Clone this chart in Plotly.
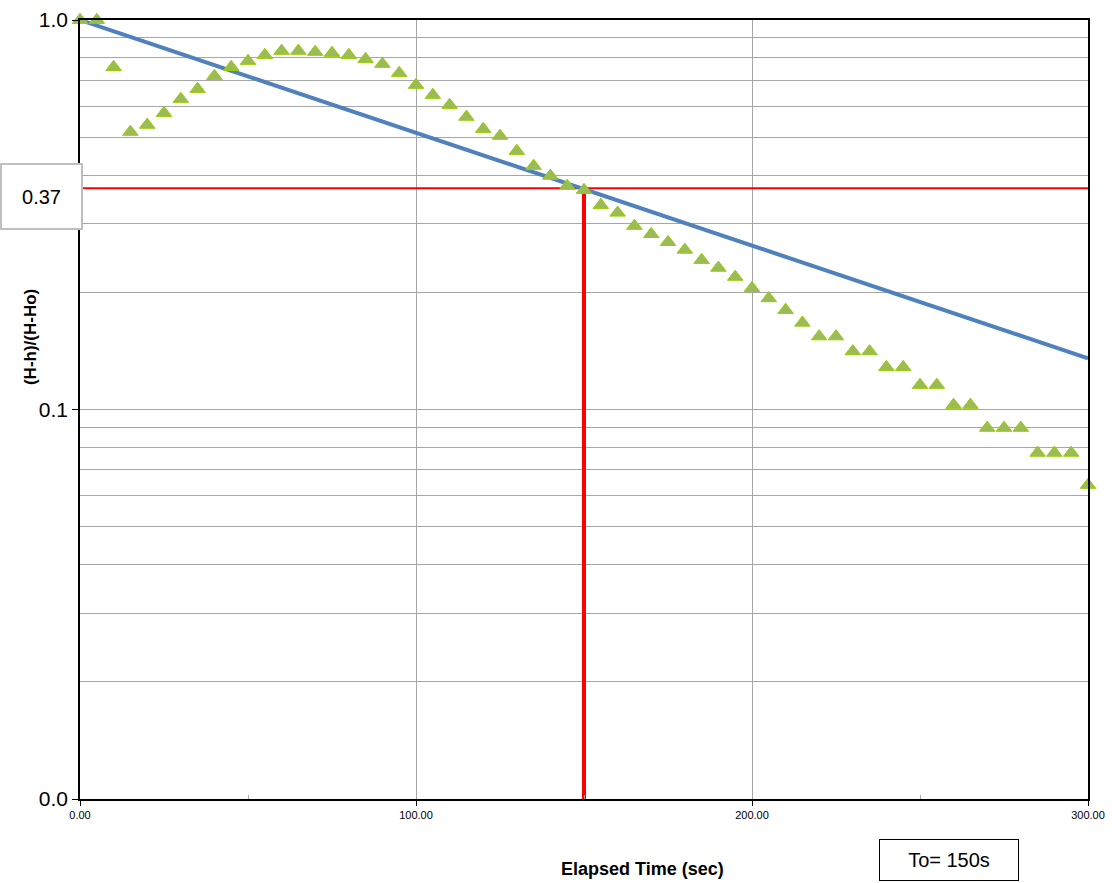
import plotly.graph_objects as go

# Measured data: elapsed time (s) and normalized head ratio
time_s = [0, 5, 10, 15, 20, 25, 30, 35, 40, 45, 50, 55, 60, 65, 70, 75, 80, 85, 90, 95,
          100, 105, 110, 115, 120, 125, 130, 135, 140, 145, 150, 155, 160, 165, 170, 175,
          180, 185, 190, 195, 200, 205, 210, 215, 220, 225, 230, 235, 240, 245, 250, 255,
          260, 265, 270, 275, 280, 285, 290, 295, 300]
head_ratio = [1.0, 1.0, 0.757, 0.516, 0.538, 0.577, 0.627, 0.665, 0.718, 0.757, 0.785, 0.813,
              0.833, 0.833, 0.828, 0.823, 0.813, 0.794, 0.771, 0.731, 0.681, 0.642, 0.605,
              0.564, 0.525, 0.504, 0.461, 0.422, 0.398, 0.375, 0.366, 0.335, 0.320, 0.296,
              0.282, 0.269, 0.257, 0.242, 0.231, 0.219, 0.205, 0.193, 0.180, 0.167, 0.154,
              0.154, 0.141, 0.141, 0.1285, 0.1285, 0.1156, 0.1156, 0.1027, 0.1027, 0.0897,
              0.0897, 0.0897, 0.0774, 0.0774, 0.0774, 0.064]

# Fitted straight line (semi-log)
fit_t = [0, 300]
fit_ratio = [1.0, 0.1353]

# Reference lines: 0.37 level and To
level_x = [0, 300]
level_y = [0.37, 0.37]
to_x = [150, 150]
to_y = [0.01, 0.37]

y_major = [0.01, 0.1, 1.0]
y_major_text = ["0.0", "0.1", "1.0"]
x_ticks = [0, 100, 200, 300]
x_tick_text = ["0.00", "100.00", "200.00", "300.00"]

# gridline positions (1..9 per decade)
y_grid = [m * d for d in (0.01, 0.1) for m in range(1, 10)] + [1.0]

FONT = "Liberation Sans, Arial, sans-serif"

fig = go.Figure()

fig.add_trace(go.Scatter(x=level_x, y=level_y, mode="lines",
                         line=dict(color="#FF0000", width=2), hoverinfo="skip"))
fig.add_trace(go.Scatter(x=fit_t, y=fit_ratio, mode="lines",
                         line=dict(color="#4F81BD", width=4)))
fig.add_trace(go.Scatter(x=to_x, y=to_y, mode="lines",
                         line=dict(color="#FF0000", width=4), hoverinfo="skip"))
fig.add_trace(go.Scatter(x=time_s, y=head_ratio, mode="markers",
                         marker=dict(symbol="triangle-up", size=13.5, color="#9BBB59",
                                     line=dict(color="#99CC00", width=1)),
                         cliponaxis=False))

fig.update_layout(
    width=1112, height=883,
    margin=dict(l=80, r=24, t=20, b=84, autoexpand=False),
    paper_bgcolor="white", plot_bgcolor="white",
    showlegend=False,
    font=dict(family=FONT, color="black"),
    xaxis=dict(range=[0, 300], tickvals=x_ticks, ticktext=x_tick_text, automargin=False,
               tickfont=dict(size=11, family=FONT), showgrid=True, gridcolor="#A6A6A6",
               gridwidth=1, zeroline=False, showline=True, linecolor="black", linewidth=1.5,
               mirror=True, ticks="outside", ticklen=5, tickcolor="black",
               minor=dict(tickvals=[50, 150, 250], ticks="inside", ticklen=4,
                          tickcolor="#A6A6A6", showgrid=False)),
    yaxis=dict(type="log", range=[-2, 0], tickvals=y_major, ticktext=y_major_text,
               automargin=False,
               tickfont=dict(size=21, family=FONT), showgrid=False, zeroline=False,
               showline=True, linecolor="black", linewidth=1.5, mirror=True,
               ticks="outside", ticklen=6, tickcolor="black",
               minor=dict(tickvals=y_grid, showgrid=True, gridcolor="#A6A6A6",
                          gridwidth=1, ticks="")),
)

fig.add_annotation(text="<b>Elapsed Time (sec)</b>", xref="paper", yref="paper",
                   x=0.5585, y=-0.0899, xanchor="center", yanchor="middle",
                   showarrow=False, font=dict(size=18, family=FONT))
fig.add_annotation(text="<b>(H-h)/(H-Ho)</b>", xref="paper", yref="paper",
                   x=-0.0496, y=0.593, xanchor="center", yanchor="middle",
                   textangle=-90, showarrow=False, font=dict(size=17, family=FONT))
fig.add_annotation(text="0.37", xref="paper", yref="paper", x=-0.0382, y=0.7734,
                   xanchor="center", yanchor="middle",
                   showarrow=False, font=dict(size=20, family=FONT),
                   bgcolor="white", bordercolor="#BFBFBF", borderwidth=2,
                   width=79, height=63, borderpad=0)
fig.add_annotation(text="To= 150s", xref="paper", yref="paper", x=0.862, y=-0.0783,
                   xanchor="center", yanchor="middle",
                   showarrow=False, font=dict(size=20, family=FONT),
                   bgcolor="white", bordercolor="black", borderwidth=1,
                   width=138, height=40, borderpad=0)

fig.write_html("out.html", config={"displayModeBar": False},
               post_script="document.body.style.margin='0px';")
